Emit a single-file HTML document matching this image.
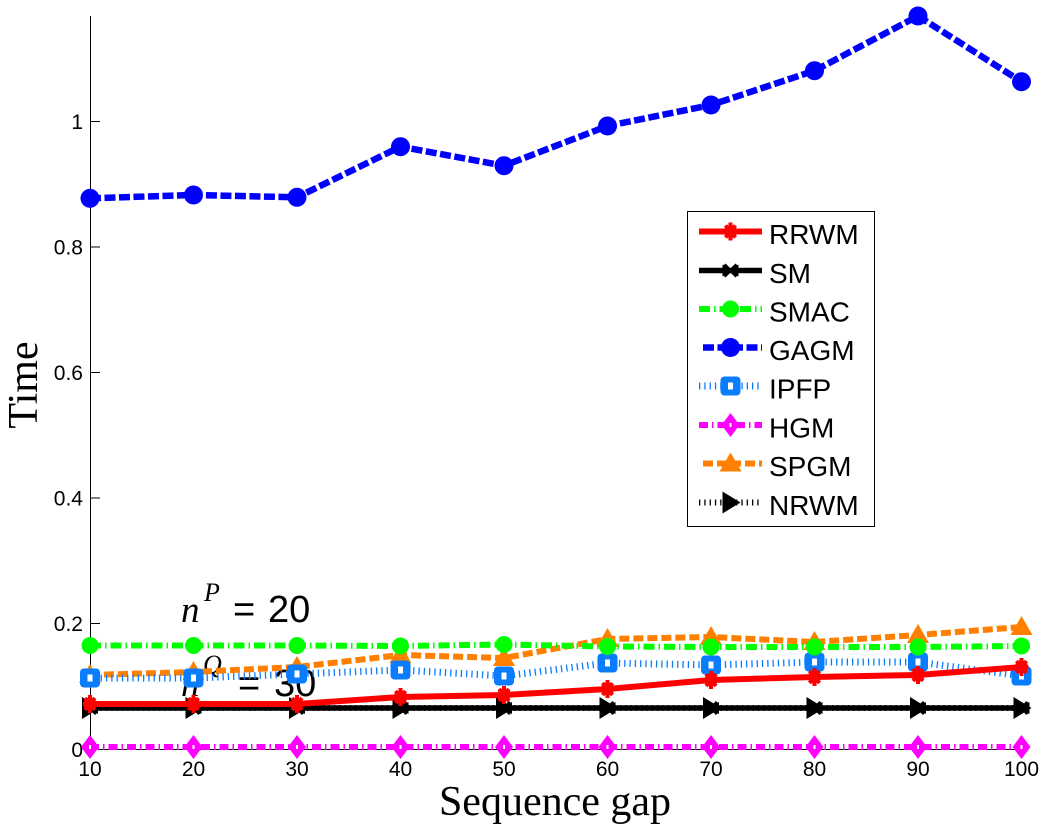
<!DOCTYPE html>
<html>
<head>
<meta charset="utf-8">
<style>
  html, body { margin:0; padding:0; background:#fff; }
  svg { display:block; }
</style>
</head>
<body>
<svg width="1044" height="834" viewBox="0 0 1044 834" xmlns="http://www.w3.org/2000/svg">
  <defs>
    <g id="mRR">
      <path d="M-7,0H7M0,-9V9M-5,-6L5,6M-5,6L5,-6" stroke="#ff0000" stroke-width="4" fill="none"/>
      <circle r="6.5" fill="#ff0000"/>
    </g>
    <g id="mSM">
      <path d="M-8,-6 L0,-1.5 L8,-6 L8,6 L0,1.5 L-8,6 Z" fill="#000"/>
      <path d="M-6,-6L6,6M-6,6L6,-6" stroke="#000" stroke-width="3" fill="none"/>
    </g>
    <g id="mSMAC">
      <circle r="8.5" fill="#00ff00"/>
    </g>
    <g id="mGA">
      <circle r="9.5" fill="#0000ff"/>
    </g>
    <g id="mIP">
      <rect x="-10" y="-9.5" width="20" height="19" rx="4" fill="#0a7dff"/>
      <rect x="-2.5" y="-3.5" width="5" height="7" fill="#fff"/>
    </g>
    <g id="mHG">
      <polygon points="0,-12 9,0 0,12 -9,0" fill="#ff00ff"/>
      <rect x="-1" y="-2" width="2" height="4" fill="#fff"/>
    </g>
    <g id="mSP">
      <polygon points="0,-11 11,8 -11,8" fill="#ff8000"/>
    </g>
    <g id="mNR">
      <polygon points="-8,-11 10,0 -8,11" fill="#000"/>
    </g>
  </defs>

  <line x1="90.5" y1="16" x2="90.5" y2="749.5" stroke="#000" stroke-width="1"/>
  <line x1="90" y1="749.5" x2="1022" y2="749.5" stroke="#000" stroke-width="1"/>
  <g stroke="#000" stroke-width="1">
    <line x1="90" y1="121.5" x2="100" y2="121.5"/>
    <line x1="90" y1="247" x2="100" y2="247"/>
    <line x1="90" y1="372.5" x2="100" y2="372.5"/>
    <line x1="90" y1="498" x2="100" y2="498"/>
    <line x1="90" y1="623.5" x2="100" y2="623.5"/>
    <line x1="193.5" y1="749" x2="193.5" y2="740"/>
    <line x1="297" y1="749" x2="297" y2="740"/>
    <line x1="400.5" y1="749" x2="400.5" y2="740"/>
    <line x1="504" y1="749" x2="504" y2="740"/>
    <line x1="607.5" y1="749" x2="607.5" y2="740"/>
    <line x1="711" y1="749" x2="711" y2="740"/>
    <line x1="814.5" y1="749" x2="814.5" y2="740"/>
    <line x1="918" y1="749" x2="918" y2="740"/>
    <line x1="1021.5" y1="749" x2="1021.5" y2="740"/>
  </g>
  <g font-family="Liberation Sans, Arial, sans-serif" font-size="21" fill="#000" text-anchor="end">
    <text x="83" y="129">1</text>
    <text x="83" y="254.5">0.8</text>
    <text x="83" y="380">0.6</text>
    <text x="83" y="505.5">0.4</text>
    <text x="83" y="631">0.2</text>
    <text x="83" y="757">0</text>
  </g>
  <g font-family="Liberation Sans, Arial, sans-serif" font-size="21" fill="#000" text-anchor="middle">
    <text x="90" y="776">10</text>
    <text x="193.5" y="776">20</text>
    <text x="297" y="776">30</text>
    <text x="400.5" y="776">40</text>
    <text x="504" y="776">50</text>
    <text x="607.5" y="776">60</text>
    <text x="711" y="776">70</text>
    <text x="814.5" y="776">80</text>
    <text x="918" y="776">90</text>
    <text x="1021.5" y="776">100</text>
  </g>
  <text x="555" y="815" font-family="Liberation Serif, Times New Roman, serif" font-size="42" text-anchor="middle" fill="#000">Sequence gap</text>
  <text transform="translate(37,385) rotate(-90)" font-family="Liberation Serif, Times New Roman, serif" font-size="42" text-anchor="middle" fill="#000">Time</text>

  <g fill="#000">
    <text x="181" y="622" font-family="Liberation Serif, serif" font-style="italic" font-size="37">n</text>
    <text x="204" y="601" font-family="Liberation Serif, serif" font-style="italic" font-size="26">P</text>
    <text x="233" y="622" font-family="Liberation Sans, Arial, sans-serif" font-size="38">=</text>
    <text x="268" y="622" font-family="Liberation Sans, Arial, sans-serif" font-size="38">20</text>
    <text x="181" y="696" font-family="Liberation Serif, serif" font-style="italic" font-size="37">n</text>
    <text x="203" y="673" font-family="Liberation Serif, serif" font-style="italic" font-size="26">Q</text>
    <text x="238" y="696" font-family="Liberation Sans, Arial, sans-serif" font-size="38">=</text>
    <text x="274" y="696" font-family="Liberation Sans, Arial, sans-serif" font-size="38">30</text>
  </g>

  <polyline points="90,708 193.5,708 297,708 400.5,708 504,708 607.5,708 711,708 814.5,708 918,708 1021.5,708" fill="none" stroke="#000" stroke-width="6" stroke-dasharray="1.3 4"/>
  <g>
    <use href="#mNR" x="90" y="708"/><use href="#mNR" x="193.5" y="708"/><use href="#mNR" x="297" y="708"/>
    <use href="#mNR" x="400.5" y="708"/><use href="#mNR" x="504" y="708"/><use href="#mNR" x="607.5" y="708"/>
    <use href="#mNR" x="711" y="708"/><use href="#mNR" x="814.5" y="708"/><use href="#mNR" x="918" y="708"/>
    <use href="#mNR" x="1021.5" y="708"/>
  </g>

  <polyline points="90,675 193.5,672 297,667 400.5,655 504,658 607.5,639 711,637 814.5,642 918,635 1021.5,627" fill="none" stroke="#ff8000" stroke-width="6" stroke-dasharray="10 4"/>
  <g>
    <use href="#mSP" x="90" y="675"/><use href="#mSP" x="193.5" y="672"/><use href="#mSP" x="297" y="667"/>
    <use href="#mSP" x="400.5" y="655"/><use href="#mSP" x="504" y="658"/><use href="#mSP" x="607.5" y="639"/>
    <use href="#mSP" x="711" y="637"/><use href="#mSP" x="814.5" y="642"/><use href="#mSP" x="918" y="635"/>
    <use href="#mSP" x="1021.5" y="627"/>
  </g>

  <polyline points="90,747 1021.5,747" fill="none" stroke="#ff00ff" stroke-width="6" stroke-dasharray="9 4 1.5 4"/>
  <g>
    <use href="#mHG" x="90" y="747"/><use href="#mHG" x="193.5" y="747"/><use href="#mHG" x="297" y="747"/>
    <use href="#mHG" x="400.5" y="747"/><use href="#mHG" x="504" y="747"/><use href="#mHG" x="607.5" y="747"/>
    <use href="#mHG" x="711" y="747"/><use href="#mHG" x="814.5" y="747"/><use href="#mHG" x="918" y="747"/>
    <use href="#mHG" x="1021.5" y="747"/>
  </g>

  <polyline points="90,678 193.5,678 297,674 400.5,670 504,676 607.5,663 711,665 814.5,662 918,662 1021.5,676" fill="none" stroke="#0a7dff" stroke-width="7" stroke-dasharray="1.3 4"/>
  <g>
    <use href="#mIP" x="90" y="678"/><use href="#mIP" x="193.5" y="678"/><use href="#mIP" x="297" y="674"/>
    <use href="#mIP" x="400.5" y="670"/><use href="#mIP" x="504" y="676"/><use href="#mIP" x="607.5" y="663"/>
    <use href="#mIP" x="711" y="665"/><use href="#mIP" x="814.5" y="662"/><use href="#mIP" x="918" y="662"/>
    <use href="#mIP" x="1021.5" y="676"/>
  </g>

  <polyline points="90,198.3 193.5,195 297,197.3 400.5,146.7 504,165.7 607.5,126 711,105 814.5,70.7 918,16 1021.5,81.7" fill="none" stroke="#0000ff" stroke-width="6.5" stroke-dasharray="11 3.5"/>
  <g>
    <use href="#mGA" x="90" y="198.3"/><use href="#mGA" x="193.5" y="195"/><use href="#mGA" x="297" y="197.3"/>
    <use href="#mGA" x="400.5" y="146.7"/><use href="#mGA" x="504" y="165.7"/><use href="#mGA" x="607.5" y="126"/>
    <use href="#mGA" x="711" y="105"/><use href="#mGA" x="814.5" y="70.7"/><use href="#mGA" x="918" y="16"/>
    <use href="#mGA" x="1021.5" y="81.7"/>
  </g>

  <polyline points="90,645.5 193.5,645.5 297,645.5 400.5,646 504,644.5 607.5,646.5 711,647 814.5,647 918,647 1021.5,646" fill="none" stroke="#00ff00" stroke-width="6" stroke-dasharray="11 4 1.5 4"/>
  <g>
    <use href="#mSMAC" x="90" y="645.5"/><use href="#mSMAC" x="193.5" y="645.5"/><use href="#mSMAC" x="297" y="645.5"/>
    <use href="#mSMAC" x="400.5" y="646"/><use href="#mSMAC" x="504" y="644.5"/><use href="#mSMAC" x="607.5" y="646.5"/>
    <use href="#mSMAC" x="711" y="647"/><use href="#mSMAC" x="814.5" y="647"/><use href="#mSMAC" x="918" y="647"/>
    <use href="#mSMAC" x="1021.5" y="646"/>
  </g>

  <polyline points="90,708 1021.5,708" fill="none" stroke="#000" stroke-width="5.5"/>
  <g>
    <use href="#mSM" x="90" y="708"/><use href="#mSM" x="193.5" y="708"/><use href="#mSM" x="297" y="708"/>
    <use href="#mSM" x="400.5" y="708"/><use href="#mSM" x="504" y="708"/><use href="#mSM" x="607.5" y="708"/>
    <use href="#mSM" x="711" y="708"/><use href="#mSM" x="814.5" y="708"/><use href="#mSM" x="918" y="708"/>
    <use href="#mSM" x="1021.5" y="708"/>
  </g>

  <polyline points="90,704 193.5,704 297,704 400.5,697 504,695 607.5,689 711,680 814.5,677 918,675 1021.5,667" fill="none" stroke="#ff0000" stroke-width="6"/>
  <g>
    <use href="#mRR" x="90" y="704"/><use href="#mRR" x="193.5" y="704"/><use href="#mRR" x="297" y="704"/>
    <use href="#mRR" x="400.5" y="697"/><use href="#mRR" x="504" y="695"/><use href="#mRR" x="607.5" y="689"/>
    <use href="#mRR" x="711" y="680"/><use href="#mRR" x="814.5" y="677"/><use href="#mRR" x="918" y="675"/>
    <use href="#mRR" x="1021.5" y="667"/>
  </g>

  <rect x="687.5" y="211.5" width="187" height="315" fill="#fff" stroke="#000" stroke-width="1"/>
  <g>
    <line x1="699" y1="231.5" x2="762" y2="231.5" stroke="#ff0000" stroke-width="6"/>
    <use href="#mRR" x="730.5" y="231.5"/>
    <line x1="699" y1="270.5" x2="762" y2="270.5" stroke="#000" stroke-width="5.5"/>
    <use href="#mSM" x="730.5" y="270.5"/>
    <line x1="699" y1="309" x2="762" y2="309" stroke="#00ff00" stroke-width="6" stroke-dasharray="11 4 1.5 4"/>
    <use href="#mSMAC" x="730.5" y="309"/>
    <line x1="703" y1="347.5" x2="762" y2="347.5" stroke="#0000ff" stroke-width="6.5" stroke-dasharray="11 3.5"/>
    <use href="#mGA" x="730.5" y="347.5"/>
    <line x1="699" y1="386" x2="762" y2="386" stroke="#0a7dff" stroke-width="7" stroke-dasharray="1.3 4"/>
    <use href="#mIP" x="730.5" y="386"/>
    <line x1="699" y1="425" x2="762" y2="425" stroke="#ff00ff" stroke-width="6" stroke-dasharray="9 4 1.5 4"/>
    <use href="#mHG" x="730.5" y="425"/>
    <line x1="703" y1="463.5" x2="762" y2="463.5" stroke="#ff8000" stroke-width="6" stroke-dasharray="10 4"/>
    <use href="#mSP" x="730.5" y="463.5"/>
    <line x1="699" y1="502.5" x2="762" y2="502.5" stroke="#000" stroke-width="6" stroke-dasharray="1.3 4"/>
    <use href="#mNR" x="730.5" y="502.5"/>
  </g>
  <g font-family="Liberation Sans, Arial, sans-serif" font-size="28" fill="#000">
    <text x="769" y="244">RRWM</text>
    <text x="769" y="283">SM</text>
    <text x="769" y="321.5">SMAC</text>
    <text x="769" y="360">GAGM</text>
    <text x="769" y="398.5">IPFP</text>
    <text x="769" y="437.5">HGM</text>
    <text x="769" y="476">SPGM</text>
    <text x="769" y="515">NRWM</text>
  </g>
</svg>
</body>
</html>
